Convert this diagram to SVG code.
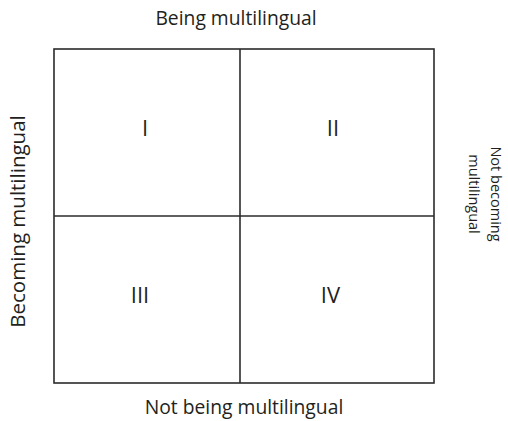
<svg xmlns="http://www.w3.org/2000/svg" width="508" height="421" viewBox="0 0 508 421">
<style>
.ln{stroke:#2b2b2b;stroke-width:1.6;fill:none}
.lbl{font-family:"Open Sans","Noto Sans",sans-serif;fill:#231f20}
.ax{font-size:19.3px}
.num{font-size:22px;text-anchor:middle}
</style>
<rect width="508" height="421" fill="#ffffff"/>
<g id="connectors">
<rect class="ln" x="54" y="49" width="380" height="334"/>
<line class="ln" x1="240" y1="49" x2="240" y2="383"/>
<line class="ln" x1="54" y1="216" x2="434" y2="216"/>
</g>
<g id="q1"><text class="lbl num" x="145" y="136">I</text></g>
<g id="q2"><text class="lbl num" x="333" y="136">II</text></g>
<g id="q3"><text class="lbl num" x="140" y="303">III</text></g>
<g id="q4"><text class="lbl num" x="330.5" y="303">IV</text></g>
<g id="top"><text class="lbl ax" x="236" y="25" text-anchor="middle">Being multilingual</text></g>
<g id="bottom"><text class="lbl ax" x="244" y="414" text-anchor="middle">Not being multilingual</text></g>
<g id="left"><text class="lbl" font-size="20.5" transform="translate(25,221.5) rotate(-90)" text-anchor="middle">Becoming multilingual</text></g>
<g id="right"><text class="lbl" font-size="14.5" transform="translate(469,194) rotate(90)" text-anchor="middle"><tspan x="0" y="-22">Not becoming</tspan><tspan x="0" y="0">multilingual</tspan></text></g>
</svg>
